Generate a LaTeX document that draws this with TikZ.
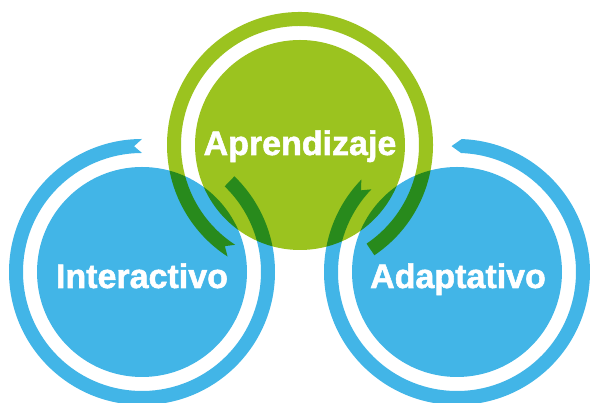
\documentclass[tikz,border=0pt]{standalone}
\usepackage{fontspec}
\setmainfont{Liberation Sans}
\newfontfamily\heavyfont{Liberation Sans}[BoldFeatures={FakeBold=1.6}]
\usepackage{xcolor}
\usepackage{tikz}
\usetikzlibrary{positioning, calc}

\definecolor{skyblue}{HTML}{42B5E7}
\definecolor{leafgreen}{HTML}{9BC31F}

\begin{document}
\begin{tikzpicture}[
  x=1pt, y=1pt,
  disk/.style={circle, minimum size=210pt, inner sep=0pt},
  circletext/.style={text=white, anchor=base,
                     font=\heavyfont\bfseries\fontsize{34}{40}\selectfont}
]
  \useasboundingbox (0,0) rectangle (590,403);

  \begin{scope}[blend mode=multiply]
    \node[disk, fill=skyblue]   (inter) at (142,131) {};
    \node[disk, fill=skyblue]   (adapt) at (457,131) {};
    \node[disk, fill=leafgreen] (apren) at (300,258) {};

    % rings with notched / pointed ends
    \fill[skyblue, shift={(inter.center)}]
      (90:133) arc[start angle=90, end angle=406, radius=133]
      -- (406:119) arc[start angle=406, end angle=90, radius=119]
      -- (93.6:126) -- cycle;
    \fill[leafgreen, shift={(apren.center)}]
      (304:133) arc[start angle=304, end angle=597, radius=133]
      -- (593.4:126) -- (597:119)
      arc[start angle=597, end angle=304, radius=119] -- cycle;
    \fill[skyblue, shift={(adapt.center)}]
      (136:133) arc[start angle=136, end angle=448, radius=133]
      -- (452.5:126) -- (448:119)
      arc[start angle=448, end angle=136, radius=119]
      -- (139.6:126) -- cycle;
  \end{scope}

  \node[circletext] (intertext) at ([yshift=-16pt]inter.center) {Interactivo};
  \node[circletext] (adapttext) at ([xshift=1pt, yshift=-16pt]adapt.center) {Adaptativo};
  \node[circletext] (aprentext) at ([yshift=-10pt]apren.center) {Aprendizaje};
\end{tikzpicture}
\end{document}
